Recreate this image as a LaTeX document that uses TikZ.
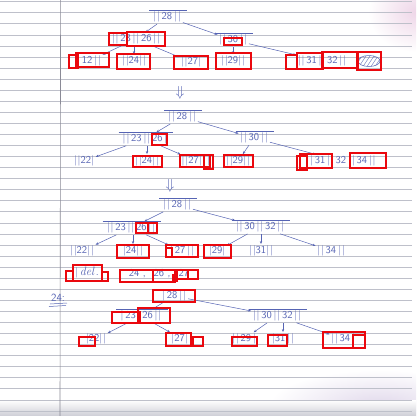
\documentclass[tikz,border=0pt]{standalone}
\usetikzlibrary{arrows.meta,shapes.geometric}
\definecolor{ink}{RGB}{86,100,180}
\definecolor{rule}{RGB}{190,192,202}
\definecolor{marginline}{RGB}{138,138,150}
\definecolor{mark}{RGB}{234,8,14}
\newcommand{\db}{|\kern0.9pt|}
\newcommand{\gap}{\hspace{1.8pt}}
\tikzset{
  key/.style={text=ink, font=\sffamily\fontsize{10.5}{10.5}\selectfont, inner sep=1pt},
  inner/.style={key, append after command={([xshift=-3pt]\tikzlastnode.north west) edge[draw=ink, line width=0.5pt] ([xshift=5pt]\tikzlastnode.north east)}},
  link/.style={draw=ink, line width=0.5pt, -{Stealth[length=3pt,width=2.4pt]}, shorten >=0.5pt, shorten <=1pt},
  box/.style={draw=mark, line width=1.9pt},
  paper/.style={draw=rule, line width=0.7pt},
  scribble/.style={ellipse, draw=ink, line width=0.5pt, minimum width=22pt, minimum height=11pt, inner sep=0pt,
    path picture={\foreach \s in {-14,-10,...,14} \draw[ink, line width=0.4pt] ([xshift=\s pt]path picture bounding box.south) -- ++(8pt,12pt);}},
  downarrow/.style={text=ink, font=\fontsize{15}{15}\selectfont, inner sep=0pt}
}
\begin{document}
\begin{tikzpicture}[x=1pt,y=-1pt]
\useasboundingbox (0,0) rectangle (416,416);
\fill[white] (0,0) rectangle (416,416);
% soft shadows on the sheet
\begin{scope}
  \clip (0,0) rectangle (416,416);
  \shade[inner color={rgb,255:red,238;green,214;blue,232}, outer color=white] (416,12) ellipse (48 and 40);
  \shade[inner color={rgb,255:red,226;green,218;blue,236}, outer color=white] (380,404) ellipse (110 and 34);
  \shade[top color=white, bottom color={rgb,255:red,206;green,206;blue,214}] (0,400) rectangle (416,416);
\end{scope}
% ruled lines and margin
\foreach \k in {0,...,37} \draw[paper] (0,{1.7+11.06*\k}) -- (412,{1.7+11.06*\k});
\draw[marginline, line width=0.6pt] (60.6,0) -- (60,416);

% ---- first tree ----
\node[inner] (a) at (167,17) {\db\gap 28\gap\db};
\node[inner] (b) at (136,39) {\db\gap 23\gap\db\gap 26\gap\db};
\node[inner] (c) at (233,40) {\db\gap 30\gap\db};
\node[key] (b1) at (89,61) {|\gap 12\gap\db};
\node[key] (b2) at (134,61) {\db 24\db};
\node[key] (b3) at (191,62) {\db 27|};
\node[key] (c1) at (233,61) {\db 29\db};
\node[key] (c2) at (322,61) {\db\gap 31\gap\db\gap 32\gap\db};
\node[scribble] (c3) at (369,61) {};
\draw[link] (a) -- (b);
\draw[link] (a) -- (c);
\draw[link] (b) -- (b1);
\draw[link] (b.south west -| b2) -- (b2);
\draw[link] (b) -- (b3);
\draw[link] (c.south west -| c1) -- (c1);
\draw[link] (c) -- (c2);

\node[downarrow] (s1) at (180,93) {$\Downarrow$};

% ---- second tree ----
\node[inner] (d) at (182,117) {\db\gap 28\gap\db};
\node[inner] (e) at (145,139) {\db\gap 23\gap\db\gap 26\gap|};
\node[inner] (f) at (254,138) {\db\gap 30\gap\db};
\node[key] (e1) at (84,161) {\db 22|};
\node[key] (e2) at (147,161) {\db 24\db};
\node[key] (e3) at (196,161) {\db 27\db\gap|};
\node[key] (f1) at (238,161) {\db 29\db};
\node[key] (f2) at (341,161) {\db\gap 31\gap\db\gap 32\gap\db\gap 34\gap\db};
\draw[link] (d) -- (e);
\draw[link] (d) -- (f);
\draw[link] (e) -- (e1);
\draw[link] (e.south -| e2) -- (e2);
\draw[link] (e) -- (e3);
\draw[link] (f) -- (f1);
\draw[link] (f) -- (f2);

\node[downarrow] (s2) at (170,186) {$\Downarrow$};

% ---- third tree ----
\node[inner] (g) at (177,205) {\db\gap 28\gap\db};
\node[inner] (h) at (131,228) {\db\gap 23\gap\db\gap 26\gap\db};
\node[inner] (i) at (260,227) {\db\gap 30\gap\db\gap 32\gap\db};
\node[key] (h1) at (82,251) {\db 22\db};
\node[key] (h2) at (133,251) {|24\db};
\node[key] (h3) at (182,251) {|\gap 27\gap\db};
\node[key] (i1) at (217,251) {|29|};
\node[key] (i2) at (261,251) {\db 31\db};
\node[key] (i3) at (331,251) {\db\gap 34\gap\db};
\draw[link] (g) -- (h);
\draw[link] (g) -- (i);
\draw[link] (h) -- (h1);
\draw[link] (h.south -| h2) -- (h2);
\draw[link] (h) -- (h3);
\draw[link] (i) -- (i1);
\draw[link] (i.south -| i2) -- (i2);
\draw[link] (i) -- (i3);

\node[key] (del) at (87,273) {|\gap{\rmfamily\itshape\fontsize{12}{12}\selectfont del}\,.};
\node[key] (rest) at (159,274) {24 ,\hspace{8pt}26 ,\hspace{8pt}27};

% ---- fourth tree ----
\node[key, font=\sffamily\fontsize{11}{11}\selectfont] (lab) at (58,298) {24:};
\draw[ink, line width=0.5pt] (50,304) -- (67,303);
\draw[ink, line width=0.5pt] (49,306.5) -- (66,305.5);
\node[inner] (j) at (174,296) {|\gap 28\gap\db};
\node[inner] (k) at (141,316) {|\gap 23\gap|\gap 26\gap\db};
\node[inner] (l) at (277,316) {\db\gap 30\gap\db\gap 32\gap\db};
\node[key] (k1) at (96,339) {|22\db};
\node[key] (k2) at (182,339) {|27|\gap|};
\node[key] (l1) at (244,339) {\db\gap 29\gap|};
\node[key] (l2) at (283,339) {|31\gap\db};
\node[key] (l3) at (343,339) {\db\gap 34\gap|};
\draw[link] (j) -- (k);
\draw[link] (j) -- (l);
\draw[link] (k) -- (k1);
\draw[link] (k) -- (k2);
\draw[link] (l) -- (l1);
\draw[link] (l.south -| l2) -- (l2);
\draw[link] (l) -- (l3);

% ---- red marks ----
\foreach \xa/\ya/\xb/\yb in {
  109/33/127/45, 127/32/165/46, 224/38/242/45,
  69/55/78/68, 76/53/109/67, 117/54/150/69, 174/56/208/69, 216/53/251/69,
  286/55/297/69, 297/53/323/69, 322/52/358/68, 357/52/381/70,
  151.7/134/167/145, 133/156/161.7/167, 180/155/210/167, 204/155/213/169,
  224/155/253/167, 297/156/306.7/170, 300/154/331.7/168, 350/153/386/167.7,
  136/223/147.7/233, 147.7/223/156.7/233, 117/245/149/258, 166/245/198/257,
  166/248/172/257, 204/245/231/258,
  66/270.7/73.3/280.7, 73.3/265.3/101.7/280.7, 101.7/272/108.3/280.7,
  120/269.7/152.7/282, 152.7/269.7/175/282, 173.3/275/177.3/280.7,
  177.3/269.7/188.3/278.7, 188.3/269.7/198.3/278.7,
  152.7/290/195/301.7, 111.7/311.7/140/322.7, 138/308/170/322.7,
  79.3/336.7/95/345.7, 166/333.3/190.7/345.7, 192.7/336.7/202.7/345.7,
  231.7/336.7/257.3/345.7, 268.3/335/287.3/345.7, 323.3/331.7/365/347.7,
  353.3/335/365/347.7}
  \draw[box] (\xa,\ya) rectangle (\xb,\yb);
\end{tikzpicture}
\end{document}
